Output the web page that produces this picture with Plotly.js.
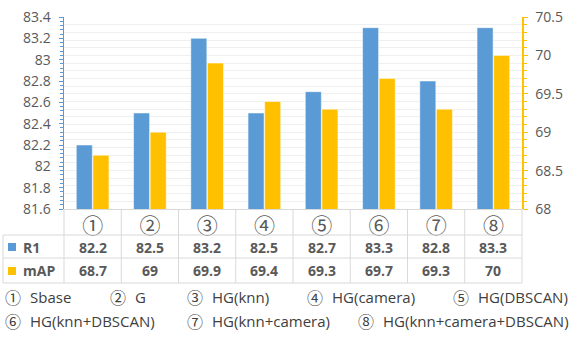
<!DOCTYPE html>
<html>
<head>
<meta charset="utf-8">
<script src="https://cdn.plot.ly/plotly-3.0.1.min.js"></script>
<style>
  html, body { margin: 0; padding: 0; background: #fff; }
  #chart { width: 583px; height: 343px; }
</style>
</head>
<body>
<div id="chart"></div>
<script>
var cats = ['①', '②', '③', '④', '⑤', '⑥', '⑦', '⑧'];
var r1 = [82.2, 82.5, 83.2, 82.5, 82.7, 83.3, 82.8, 83.3];
var map = [68.7, 69, 69.9, 69.4, 69.3, 69.7, 69.3, 70];
var r1Text = ['82.2', '82.5', '83.2', '82.5', '82.7', '83.3', '82.8', '83.3'];
var mapText = ['68.7', '69', '69.9', '69.4', '69.3', '69.7', '69.3', '70'];
var notes = ['Sbase', 'G', 'HG(knn)', 'HG(camera)', 'HG(DBSCAN)',
             'HG(knn+DBSCAN)', 'HG(knn+camera)', 'HG(knn+camera+DBSCAN)'];

var blue = '#5B9BD5';
var gold = '#FFC000';
var grey = '#595959';
var font = '"Open Sans", "Noto Sans CJK SC", sans-serif';
var cjk = '"Noto Sans CJK SC", sans-serif';

var trace1 = {
  type: 'bar',
  name: 'R1',
  x: cats,
  y: r1,
  width: 0.28,
  offset: -0.285,
  marker: { color: blue, line: { color: '#ffffff', width: 0.5 } },
  yaxis: 'y'
};

var trace2 = {
  type: 'bar',
  name: 'mAP',
  x: cats,
  y: map,
  width: 0.28,
  offset: 0.005,
  marker: { color: gold, line: { color: '#ffffff', width: 0.5 } },
  yaxis: 'y2'
};

// pixel -> paper helpers (plot area 64..522 x, 17..209 y)
function px(x) { return (x - 64) / 458; }
function py(y) { return (209 - y) / 192; }

var shapes = [];
var lineStyle = { color: '#D9D9D9', width: 1 };
// table horizontal rules
[235, 258, 283].forEach(function(y) {
  shapes.push({ type: 'line', xref: 'paper', yref: 'paper',
    x0: px(3), x1: 1, y0: py(y), y1: py(y), line: lineStyle });
});
// column borders
for (var k = 0; k <= cats.length; k++) {
  shapes.push({ type: 'line', xref: 'paper', yref: 'paper',
    x0: k / cats.length, x1: k / cats.length, y0: 0, y1: py(283), line: lineStyle });
}
shapes.push({ type: 'line', xref: 'paper', yref: 'paper',
  x0: px(3), x1: px(3), y0: py(235), y1: py(283), line: lineStyle });
// series keys
shapes.push({ type: 'rect', xref: 'paper', yref: 'paper', x0: px(8), x1: px(16),
  y0: py(251), y1: py(243), fillcolor: blue, line: { width: 0 } });
shapes.push({ type: 'rect', xref: 'paper', yref: 'paper', x0: px(8), x1: px(16),
  y0: py(275), y1: py(267), fillcolor: gold, line: { width: 0 } });

var annotations = [];
annotations.push({ xref: 'paper', yref: 'paper', x: px(21), y: py(247), xanchor: 'left',
  yanchor: 'middle', text: '<b>R1</b>', showarrow: false, font: { size: 14, color: grey, family: font } });
annotations.push({ xref: 'paper', yref: 'paper', x: px(21), y: py(270), xanchor: 'left',
  yanchor: 'middle', text: '<b>mAP</b>', showarrow: false, font: { size: 14, color: grey, family: font } });
for (var i = 0; i < cats.length; i++) {
  annotations.push({ xref: 'x', yref: 'paper', x: cats[i], y: py(247), yanchor: 'middle',
    text: '<b>' + r1Text[i] + '</b>', showarrow: false, font: { size: 14, color: grey, family: font } });
  annotations.push({ xref: 'x', yref: 'paper', x: cats[i], y: py(270), yanchor: 'middle',
    text: '<b>' + mapText[i] + '</b>', showarrow: false, font: { size: 14, color: grey, family: font } });
}

// footnote positions (pixels): circled number, then label
var noteX = [4, 109, 186, 306, 452, 4, 186, 357];
var noteY = [296.5, 296.5, 296.5, 296.5, 296.5, 320.5, 320.5, 320.5];
for (var j = 0; j < notes.length; j++) {
  annotations.push({ xref: 'paper', yref: 'paper', x: px(noteX[j]), y: py(noteY[j]),
    xanchor: 'left', yanchor: 'middle', showarrow: false, borderpad: 0,
    text: cats[j], font: { size: 16, color: '#404040', family: cjk } });
  annotations.push({ xref: 'paper', yref: 'paper', x: px(noteX[j] + 25), y: py(noteY[j]),
    xanchor: 'left', yanchor: 'middle', showarrow: false, borderpad: 0,
    text: notes[j], font: { size: 15, color: '#404040', family: font } });
}

var layout = {
  width: 583,
  height: 343,
  margin: { l: 64, r: 61, t: 17, b: 134 },
  paper_bgcolor: '#ffffff',
  plot_bgcolor: '#ffffff',
  showlegend: false,
  barmode: 'overlay',
  font: { family: font, color: grey, size: 14 },
  xaxis: {
    type: 'category',
    range: [-0.5, 7.5],
    showline: true,
    linecolor: '#D9D9D9',
    ticks: '',
    ticklabelstandoff: -2,
    tickfont: { size: 21, color: grey, family: cjk },
    showgrid: false
  },
  yaxis: {
    range: [81.6, 83.4],
    dtick: 0.2,
    showgrid: false,
    zeroline: false,
    showline: true,
    linecolor: blue,
    linewidth: 1.5,
    ticks: 'outside',
    ticklen: 4,
    tickcolor: blue,
    ticklabelstandoff: 5,
    tickfont: { size: 14, color: grey },
    minor: { dtick: 0.04, ticks: 'outside', ticklen: 3, tickcolor: blue, showgrid: false }
  },
  yaxis2: {
    range: [68, 70.5],
    dtick: 0.5,
    overlaying: 'y',
    side: 'right',
    showgrid: true,
    gridcolor: '#EFEFEF',
    zeroline: false,
    showline: true,
    linecolor: gold,
    linewidth: 1.5,
    ticks: 'outside',
    ticklen: 4,
    tickcolor: gold,
    ticklabelstandoff: 5,
    tickfont: { size: 14, color: grey },
    minor: { dtick: 0.1, ticks: 'outside', ticklen: 3, tickcolor: gold, showgrid: true, gridcolor: '#EFEFEF' }
  },
  shapes: shapes,
  annotations: annotations
};

Plotly.newPlot('chart', [trace1, trace2], layout, { displayModeBar: false, staticPlot: true });
</script>
</body>
</html>
